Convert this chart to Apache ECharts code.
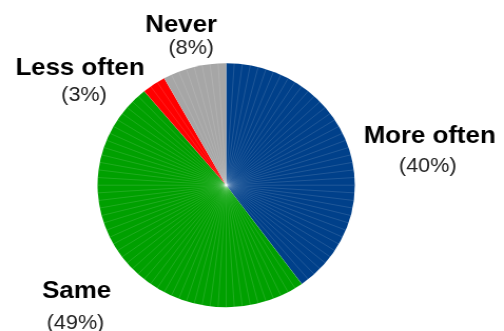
<!DOCTYPE html>
<html>
<head>
<meta charset="utf-8">
<script src="https://cdn.jsdelivr.net/npm/echarts@6/dist/echarts.min.js"></script>
<style>
  html, body { margin: 0; padding: 0; background: #fff; overflow: hidden; }
  /* The chart is drawn slightly narrow and stretched horizontally, so the pie comes out a little wide */
  #chart { width: 478px; height: 331px; transform: scaleX(1.0544); transform-origin: 0 0; }
</style>
</head>
<body>
<div id="chart"></div>
<script>
// Answer categories, clockwise from 12 o'clock
const categories = ['More often', 'Same', 'Less often', 'Never'];
// Share of respondents, percent
const shares = [40, 49, 3, 8];
const colors = ['#00408a', '#00a000', '#ff0000', '#a6a6a6'];

// Label anchor points (name line and percent line) in chart pixels
const namePos = [[407.5, 136], [72.7, 291], [75.9, 68.5], [171.8, 25.5]];
const pctPos = [[405.7, 166], [71.6, 323], [79.7, 95], [181.3, 48]];

const center = [214.5, 185.2];
const radius = 122;

const chart = echarts.init(document.getElementById('chart'), null, { renderer: 'canvas' });

const graphics = [];
categories.forEach((name, i) => {
  graphics.push({
    type: 'text', x: namePos[i][0], y: namePos[i][1], silent: true,
    style: { text: name, fill: '#000', font: 'bold 24.5px "Liberation Sans", Arial, sans-serif',
             textAlign: 'center', textVerticalAlign: 'middle' }
  });
  graphics.push({
    type: 'text', x: pctPos[i][0], y: pctPos[i][1], silent: true,
    style: { text: '(' + shares[i] + '%)', fill: '#222', font: '20.5px "Liberation Sans", Arial, sans-serif',
             textAlign: 'center', textVerticalAlign: 'middle' }
  });
});

chart.setOption({
  animation: false,
  backgroundColor: '#fff',
  // Polar grid used only for the faint 1% spokes over the pie
  polar: { center: center, radius: radius },
  angleAxis: {
    type: 'value', min: 0, max: 100, interval: 1, startAngle: 90, clockwise: true, z: 5,
    axisLine: { show: false }, axisTick: { show: false }, axisLabel: { show: false },
    splitLine: { show: true, lineStyle: { color: 'rgba(255,255,255,0.25)', width: 0.5 } }
  },
  radiusAxis: { show: false, min: 0, max: 1 },
  series: [{
    type: 'pie',
    center: center,
    radius: [0, radius],
    startAngle: 90,
    clockwise: true,
    z: 2,
    silent: true,
    label: { show: false },
    labelLine: { show: false },
    itemStyle: { borderWidth: 0 },
    emphasis: { disabled: true },
    data: categories.map((name, i) => ({ name: name, value: shares[i], itemStyle: { color: colors[i] } }))
  }],
  graphic: graphics
});
</script>
</body>
</html>
